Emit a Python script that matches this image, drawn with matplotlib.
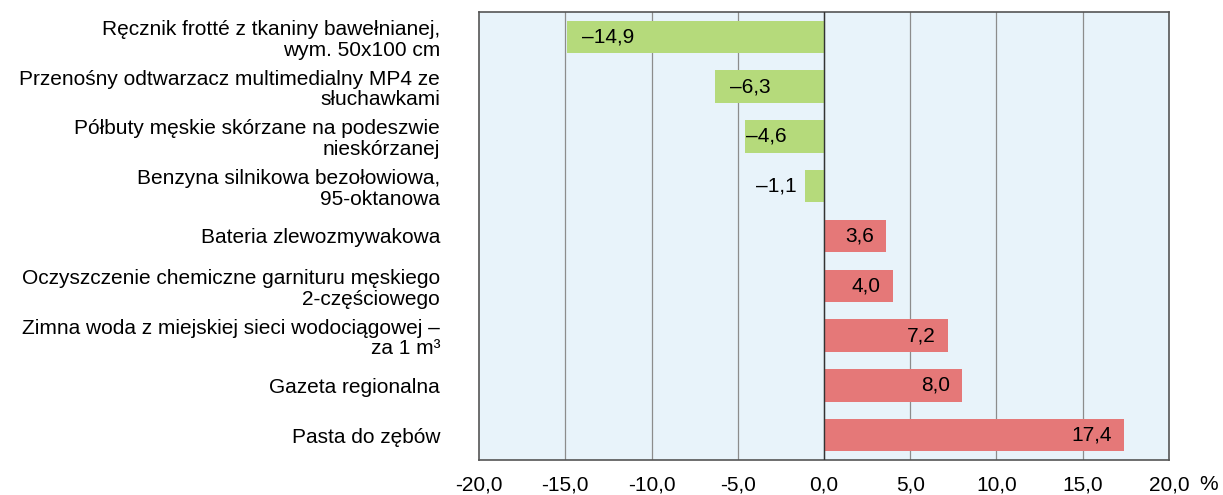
import matplotlib.pyplot as plt

plt.rcParams['font.family'] = ['Liberation Sans', 'DejaVu Sans']

labels = [
    "Ręcznik frotté z tkaniny bawełnianej,\nwym. 50x100 cm",
    "Przenośny odtwarzacz multimedialny MP4 ze\nsłuchawkami",
    "Półbuty męskie skórzane na podeszwie\nnieskórzanej",
    "Benzyna silnikowa bezołowiowa,\n95-oktanowa",
    "Bateria zlewozmywakowa",
    "Oczyszczenie chemiczne garnituru męskiego\n2-częściowego",
    "Zimna woda z miejskiej sieci wodociągowej –\nza 1 m³",
    "Gazeta regionalna",
    "Pasta do zębów",
]
values = [-14.9, -6.3, -4.6, -1.1, 3.6, 4.0, 7.2, 8.0, 17.4]
xticks = [-20, -15, -10, -5, 0, 5, 10, 15, 20]

green = '#b5da7b'
red = '#e57878'
fs = 15

fig = plt.figure(figsize=(12.23, 4.95), dpi=100)
ax = fig.add_axes([0.3917, 0.0707, 0.5641, 0.9051])
ax.set_facecolor('#e8f3fa')

ypos = list(range(len(values)))
colors = [green if v < 0 else red for v in values]
ax.barh(ypos, values, height=0.65, color=colors, zorder=3)

ax.set_xlim(-20, 20)
ax.set_ylim(len(values) - 0.5, -0.5)
ax.set_xticks(xticks)
ax.set_xticklabels([f"{t:.1f}".replace('.', ',') for t in xticks], fontsize=fs)
ax.tick_params(axis='x', length=0, pad=11)
ax.set_yticks(ypos)
ax.set_yticklabels(labels, fontsize=fs, linespacing=1.12)
ax.tick_params(axis='y', length=0, pad=28)

for t in xticks[1:-1]:
    ax.axvline(t, color='#8c8c8c', lw=0.9, zorder=1)
ax.axvline(0, color='#333333', lw=1.0, zorder=4)
for s in ax.spines.values():
    s.set_color('#555555')
    s.set_linewidth(1.2)

for y, v in zip(ypos, values):
    txt = f"{v:.1f}".replace('.', ',').replace('-', '–')
    if v < -5:
        ax.text(v + 0.85, y, txt, ha='left', va='center', fontsize=fs, zorder=5)
    elif v < -2:
        ax.text(v + 0.1, y, txt, ha='left', va='center', fontsize=fs, zorder=5)
    elif v < 0:
        ax.text(v - 0.5, y, txt, ha='right', va='center', fontsize=fs, zorder=5)
    else:
        ax.text(v - 0.7, y, txt, ha='right', va='center', fontsize=fs, zorder=5)

fig.text(1209 / 1223, 1 - 485 / 495, '%', ha='center', va='center', fontsize=fs)

fig.savefig('out.png', dpi=100)
